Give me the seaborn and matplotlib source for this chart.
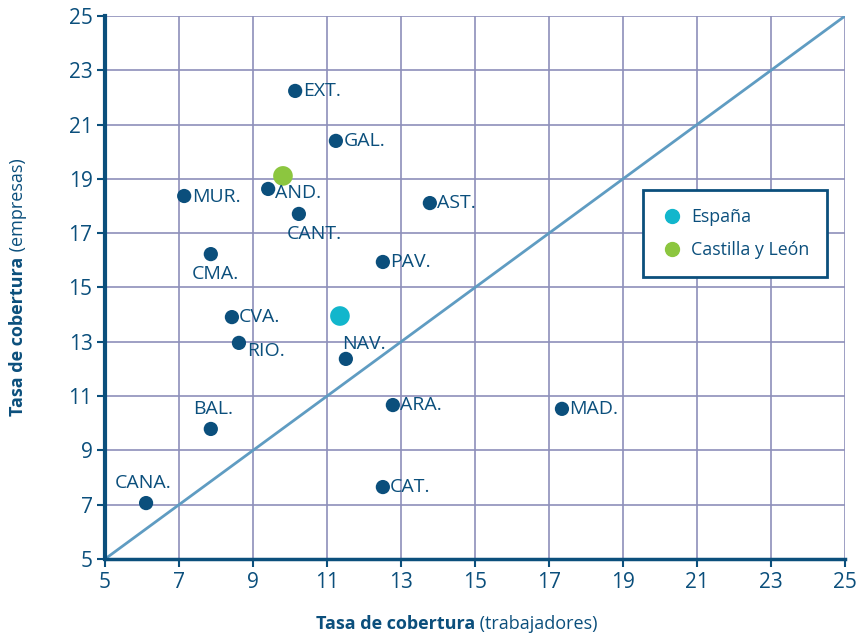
import matplotlib
matplotlib.use("Agg")
import matplotlib.pyplot as plt
import seaborn as sns
import pandas as pd
from matplotlib.lines import Line2D

# ---- data ----
regions = ["EXT.", "GAL.", "AND.", "MUR.", "CANT.", "AST.", "CMA.", "PAV.", "CVA.",
           "RIO.", "NAV.", "ARA.", "MAD.", "BAL.", "CAT.", "CANA."]
trabajadores = [10.14, 11.24, 9.41, 7.14, 10.24, 13.78, 7.86, 12.51, 8.43,
                8.62, 11.51, 12.78, 17.35, 7.86, 12.51, 6.11]
empresas = [22.24, 20.40, 18.63, 18.37, 17.71, 18.11, 16.23, 15.94, 13.91,
            12.96, 12.37, 10.67, 10.53, 9.79, 7.65, 7.06]

highlight_names = ["España", "Castilla y León"]
highlight_x = [11.35, 9.81]
highlight_y = [13.95, 19.11]

ticks = list(range(5, 26, 2))

# label offsets (points) and alignment, styling only
label_style = {
    "EXT.": (6, 0, "left", "center"),
    "GAL.": (6, 0, "left", "center"),
    "AND.": (5, -3, "left", "center"),
    "MUR.": (6, -1, "left", "center"),
    "CANT.": (-9, -8, "left", "top"),
    "AST.": (5, 0, "left", "center"),
    "CMA.": (-14, -8, "left", "top"),
    "PAV.": (5, 0, "left", "center"),
    "CVA.": (5, 0, "left", "center"),
    "RIO.": (6, -6, "left", "center"),
    "NAV.": (-3, 4, "left", "bottom"),
    "ARA.": (5, 0, "left", "center"),
    "MAD.": (5, 0, "left", "center"),
    "BAL.": (2, 8, "center", "bottom"),
    "CAT.": (5, 0, "left", "center"),
    "CANA.": (-2, 8, "center", "bottom"),
}

NAVY = "#0b4f7c"
GRID = "#8d8fba"
DIAG = "#5f9cc2"
CYAN = "#12b6cc"
GREEN = "#8cc63f"

sns.set_theme(style="white")
plt.rcParams["font.family"] = ["Open Sans", "DejaVu Sans"]

fig = plt.figure(figsize=(8.57, 6.38), dpi=100)
ax = fig.add_axes([105/857, 1-559/638, 740/857, 543/638])

df = pd.DataFrame({"trab": trabajadores, "emp": empresas, "reg": regions})
dh = pd.DataFrame({"trab": highlight_x, "emp": highlight_y, "name": highlight_names})

ax.plot([5, 25], [5, 25], color=DIAG, lw=2, zorder=2)

sns.scatterplot(data=df, x="trab", y="emp", ax=ax, color=NAVY, s=105,
                edgecolor="none", zorder=3, legend=False)
sns.scatterplot(data=dh, x="trab", y="emp", hue="name", ax=ax,
                palette={"España": CYAN, "Castilla y León": GREEN},
                s=200, edgecolor="none", zorder=4, legend=False)

for r, x, y in zip(regions, trabajadores, empresas):
    dx, dy, ha, va = label_style[r]
    ax.annotate(r, (x, y), xytext=(dx, dy), textcoords="offset points",
                ha=ha, va=va, fontsize=14, color=NAVY, zorder=5)

ax.set_xlim(5, 25)
ax.set_ylim(5, 25)
ax.set_xticks(ticks)
ax.set_yticks(ticks)
ax.grid(True, color=GRID, lw=1.2, zorder=0)
ax.set_axisbelow(True)
for s in ["top", "right"]:
    ax.spines[s].set_visible(False)
ax.spines["left"].set_color(NAVY)
ax.spines["left"].set_linewidth(3)
ax.spines["bottom"].set_color(NAVY)
ax.spines["bottom"].set_linewidth(2.5)
ax.tick_params(axis="both", colors=NAVY, labelsize=15, length=6, width=1.5,
               direction="out", bottom=True, left=True, pad=3)
ax.set_xlabel("")
ax.set_ylabel("")

# legend box
handles = [Line2D([], [], marker="o", ls="", color=CYAN, markersize=10),
           Line2D([], [], marker="o", ls="", color=GREEN, markersize=10)]
leg = ax.legend(handles, highlight_names, loc="upper left",
                bbox_to_anchor=((643-105)/740, (559-190)/543),
                borderaxespad=0, frameon=True, fancybox=False, fontsize=12.8,
                labelcolor=NAVY, borderpad=1.0, labelspacing=0.85,
                handletextpad=0.4, handlelength=1.3)
leg.get_frame().set_edgecolor(NAVY)
leg.get_frame().set_linewidth(2)
leg.get_frame().set_alpha(1)

# axis labels with mixed weight
fig.canvas.draw()
r = fig.canvas.get_renderer()

def mixed_label(bold, normal, cx, cy, rotation=0):
    t1 = fig.text(0, 0, bold, fontsize=13, fontweight="bold", color=NAVY,
                  rotation=rotation, ha="left", va="center")
    t2 = fig.text(0, 0, " " + normal, fontsize=13, color=NAVY,
                  rotation=rotation, ha="left", va="center")
    b1 = t1.get_window_extent(r)
    b2 = t2.get_window_extent(r)
    W, H = fig.bbox.width, fig.bbox.height
    if rotation == 0:
        total = b1.width + b2.width
        x0 = cx - total / 2
        t1.set_position((x0 / W, 1 - cy / H))
        t2.set_position(((x0 + b1.width) / W, 1 - cy / H))
    else:
        total = b1.height + b2.height
        y0 = (H - cy) - total / 2
        t1.set_ha("center"); t2.set_ha("center")
        t1.set_va("bottom"); t2.set_va("bottom")
        t1.set_position((cx / W, y0 / H))
        t2.set_position((cx / W, (y0 + b1.height) / H))

mixed_label("Tasa de cobertura", "(trabajadores)", 457, 624)
mixed_label("Tasa de cobertura", "(empresas)", 18, 287, rotation=90)

fig.savefig("out.png", dpi=100)
